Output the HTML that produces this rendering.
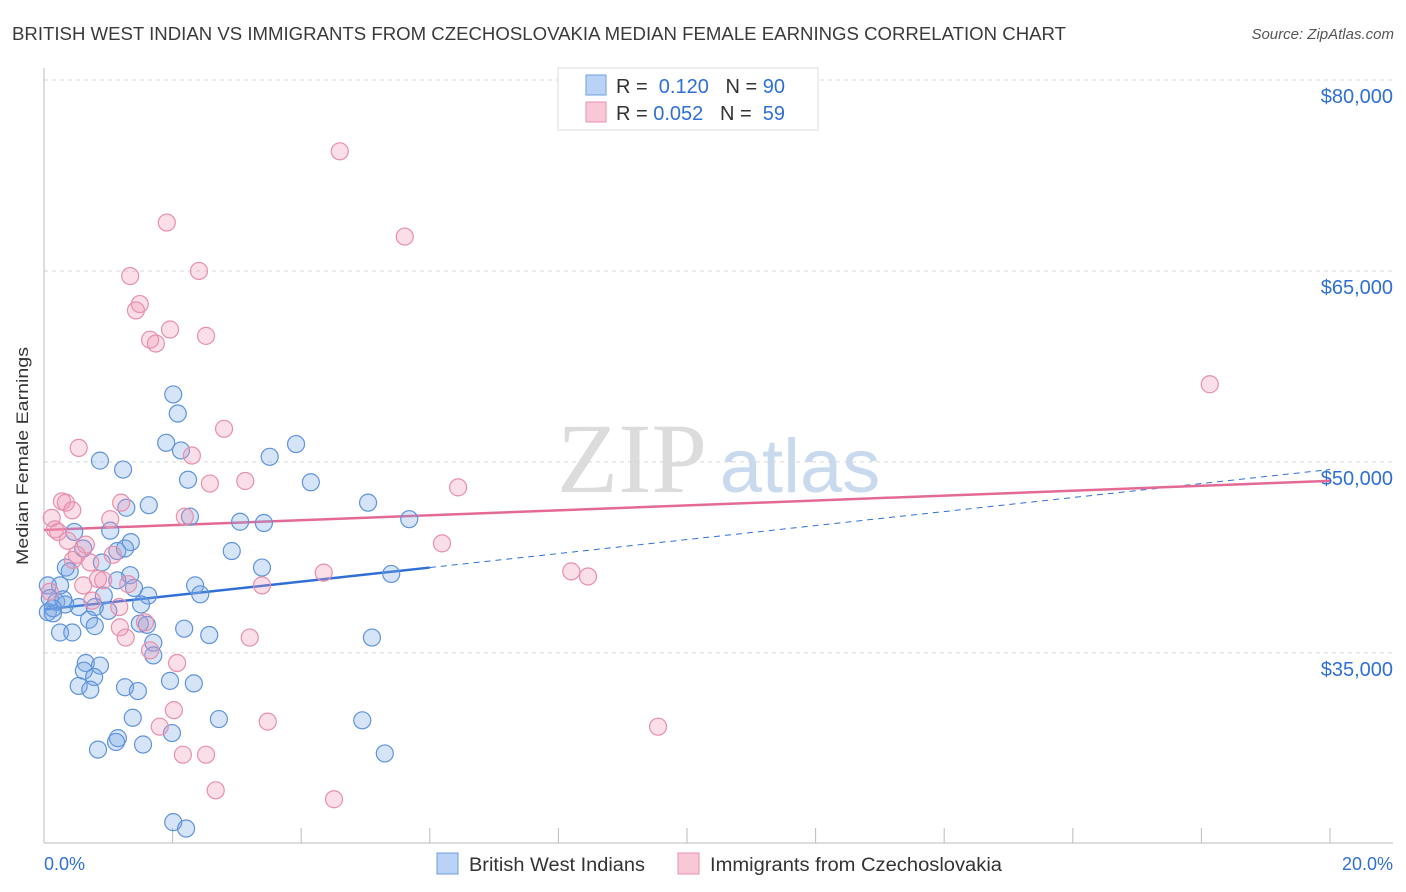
<!DOCTYPE html>
<html><head><meta charset="utf-8">
<style>
body{margin:0;background:#fff;font-family:"Liberation Sans",sans-serif;}
svg{display:block}
</style></head>
<body>
<svg id="chart" width="1406" height="892" xmlns="http://www.w3.org/2000/svg">
<text x="12" y="40" font-size="18" fill="#3a3a3a" textLength="1054" lengthAdjust="spacingAndGlyphs">BRITISH WEST INDIAN VS IMMIGRANTS FROM CZECHOSLOVAKIA MEDIAN FEMALE EARNINGS CORRELATION CHART</text>
<text x="1394" y="39" font-size="15" fill="#555" text-anchor="end" font-style="italic">Source: ZipAtlas.com</text>
<text x="28" y="456" font-size="17" fill="#333" text-anchor="middle" textLength="218" lengthAdjust="spacingAndGlyphs" transform="rotate(-90 28 456)">Median Female Earnings</text>
<g>
<text x="632" y="492" font-size="100" fill="#dcdcdc" text-anchor="middle" font-family="Liberation Serif,serif">ZIP</text>
<text x="800" y="492" font-size="76" fill="#c9d9ee" text-anchor="middle">atlas</text>
</g>
<g id="grid"></g>
<g id="axes"></g>
<g id="lines"></g>
<g id="points"></g>
<g>
<rect x="558" y="68" width="260" height="62" fill="#fff" stroke="#ddd"/>
<rect x="586" y="75" width="20" height="20" fill="#b9d2f5" stroke="#6d9fe0"/>
<rect x="586" y="102" width="20" height="20" fill="#f8c8d7" stroke="#e890ab"/>
<text x="616" y="93" font-size="20" fill="#333">R = <tspan fill="#2f6fd6">&#160;0.120</tspan>&#160;&#160;&#160;N = <tspan fill="#2f6fd6">90</tspan></text>
<text x="616" y="120" font-size="20" fill="#333">R = <tspan fill="#2f6fd6">0.052</tspan>&#160;&#160;&#160;N = <tspan fill="#2f6fd6">&#160;59</tspan></text>
</g>
<g>
<rect x="437" y="853" width="21" height="21" fill="#b9d2f5" stroke="#6d9fe0"/>
<text x="469" y="871" font-size="19" fill="#333" textLength="176" lengthAdjust="spacingAndGlyphs">British West Indians</text>
<rect x="678" y="853" width="21" height="21" fill="#f8c8d7" stroke="#e890ab"/>
<text x="710" y="871" font-size="19" fill="#333" textLength="292" lengthAdjust="spacingAndGlyphs">Immigrants from Czechoslovakia</text>
</g>
<text x="44" y="870" font-size="18" fill="#2f6fd6">0.0%</text>
<text x="1393" y="870" font-size="18" fill="#2f6fd6" text-anchor="end">20.0%</text>
</svg>
<script>
const yTicks=[80000,65000,50000,35000];
const yTickLabels=["$80,000","$65,000","$50,000","$35,000"];
const xTicks=[0,2,4,6,8,10,12,14,16,18,20];
const blueX=[2.01,2.21,2.01,2.08,1.90,2.13,0.87,1.23,2.24,3.51,3.92,4.15,5.04,5.68,3.05,3.42,1.63,1.28,2.27,2.92,3.39,5.40,5.10,4.95,5.30,1.03,0.47,0.61,1.35,1.14,1.26,0.90,0.34,0.40,0.25,0.06,1.34,1.14,2.35,2.43,0.93,0.79,0.54,0.19,0.33,0.06,0.14,1.00,1.40,1.62,1.51,1.49,1.60,0.70,0.79,0.25,0.44,1.70,1.70,2.18,2.57,0.65,0.87,0.62,0.78,0.54,0.72,1.26,1.46,1.96,2.33,1.38,2.72,1.99,1.15,1.12,0.84,1.54,0.09,0.30,0.14];
const blueY=[21.7,21.2,55.3,53.8,51.5,50.9,50.1,49.4,48.6,50.4,51.4,48.4,46.8,45.5,45.3,45.2,46.6,46.4,45.7,43.0,41.7,41.2,36.2,29.7,27.1,44.6,44.5,43.2,43.7,43.0,43.2,42.1,41.7,41.4,40.3,40.3,41.1,40.7,40.3,39.6,39.5,38.6,38.6,39.0,38.8,38.2,38.1,38.3,40.1,39.5,38.8,37.3,37.2,37.6,37.1,36.6,36.6,35.8,34.8,36.9,36.4,34.2,34.0,33.6,33.1,32.4,32.1,32.3,32.0,32.8,32.6,29.9,29.8,28.7,28.3,28.0,27.4,27.8,39.3,39.2,38.5];
const pinkX=[4.60,5.61,1.91,2.41,1.34,1.49,1.43,1.96,2.52,1.65,1.74,18.13,2.80,0.54,2.30,3.13,2.58,6.44,0.28,0.34,0.44,1.20,2.19,1.03,0.12,0.17,0.22,0.37,0.65,6.19,0.51,0.45,0.72,1.07,8.20,8.46,4.35,0.84,0.92,0.61,1.31,3.39,0.09,0.75,1.17,1.18,1.57,1.27,3.20,1.65,2.07,2.02,1.80,3.48,9.55,2.16,2.52,2.67,4.51];
const pinkY=[74.4,67.7,68.8,65.0,64.6,62.4,61.9,60.4,59.9,59.6,59.3,56.1,52.6,51.1,50.5,48.5,48.3,48.0,46.9,46.8,46.2,46.8,45.7,45.5,45.6,44.7,44.5,43.8,43.5,43.6,42.7,42.3,42.1,42.7,41.4,41.0,41.3,40.8,40.7,40.3,40.4,40.3,39.8,39.1,38.6,37.0,37.4,36.2,36.2,35.2,34.2,30.5,29.2,29.6,29.2,27.0,27.0,24.2,23.5];
const blueTrend=[38.4,0.55];
const pinkTrend=[44.65,0.193];
const NS="http://www.w3.org/2000/svg";
const X=p=>44+p*64.3;
const Y=v=>80+(80-v)*12.73;
function mk(tag,attrs,parent){const e=document.createElementNS(NS,tag);for(const k in attrs)e.setAttribute(k,attrs[k]);document.getElementById(parent).appendChild(e);return e;}
yTicks.forEach((t,i)=>{
 const y=Y(t/1000);
 const g=mk('line',{x1:44,x2:1393,y1:y,y2:y,stroke:'#d8d8d8','stroke-dasharray':'4,4'},'grid');
 
 
 const l=mk('text',{x:1393,y:y+23,'font-size':20,fill:'#2f6fd6','text-anchor':'end'},'axes');
 l.textContent=yTickLabels[i];
 
 
});
const ya=mk('line',{x1:44,x2:44,y1:68,y2:843,stroke:'#bbb'},'axes');


const xa=mk('line',{x1:44,x2:1393,y1:843,y2:843,stroke:'#bbb'},'axes');


xTicks.forEach(t=>{
 const tk=mk('line',{x1:X(t),x2:X(t),y1:828,y2:843,stroke:'#bbb'},'axes');
 
 
});
function dots(xs,ys,fill,stroke,name){
 xs.forEach((x,i)=>{
  const c=mk('circle',{cx:X(x),cy:Y(ys[i]),r:8.5,fill:fill,stroke:stroke,'stroke-width':1.2},'points');
  
  
 });
}
dots(blueX,blueY,'rgba(120,165,230,0.3)','#5f93dc','blue-point');
dots(pinkX,pinkY,'rgba(240,150,180,0.3)','#e88fab','pink-point');
const bs=mk('line',{x1:X(0),y1:Y(blueTrend[0]),x2:X(6),y2:Y(blueTrend[0]+6*blueTrend[1]),stroke:'#2f6fd6','stroke-width':2.5},'lines');


const bd=mk('line',{x1:X(6),y1:Y(blueTrend[0]+6*blueTrend[1]),x2:X(20),y2:Y(blueTrend[0]+20*blueTrend[1]),stroke:'#2f6fd6','stroke-width':1,'stroke-dasharray':'6,5'},'lines');


const pl=mk('line',{x1:X(0),y1:Y(pinkTrend[0]),x2:X(20),y2:Y(pinkTrend[0]+20*pinkTrend[1]),stroke:'#e46a95','stroke-width':2.5},'lines');


</script>
</body></html>
